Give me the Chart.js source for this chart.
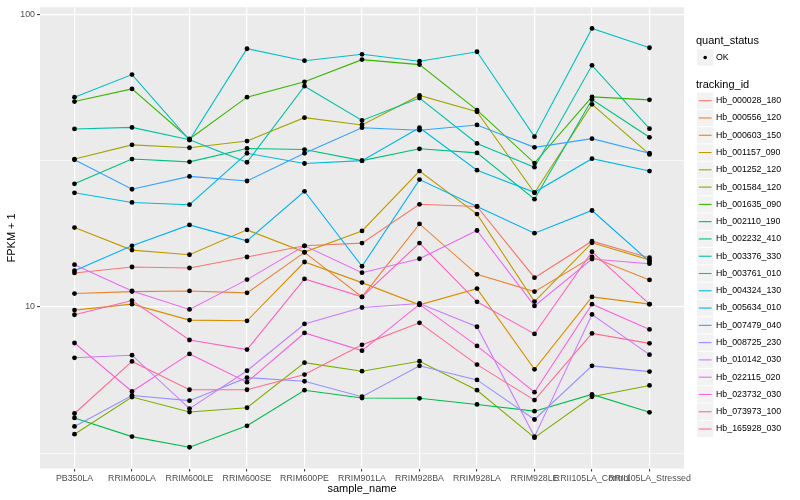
<!DOCTYPE html>
<html><head><meta charset="utf-8">
<script src="https://cdn.jsdelivr.net/npm/chart.js@4.4.0/dist/chart.umd.min.js"></script>
<style>html,body{margin:0;padding:0;background:#fff}canvas{display:block}</style>
</head><body>
<canvas id="c" width="800" height="500" style="width:800px;height:500px"></canvas>
<script>
const sampleNames = ["PB350LA","RRIM600LA","RRIM600LE","RRIM600SE","RRIM600PE","RRIM901LA","RRIM928BA","RRIM928LA","RRIM928LE","RRII105LA_Control","RRII105LA_Stressed"];

const Hb_000028_180 = [13.08,13.71,13.60,14.83,16.20,16.55,22.47,22.10,12.60,16.80,14.75];
const Hb_000556_120 = [11.12,11.29,11.35,11.18,15.38,10.83,19.25,12.94,11.29,14.83,12.38];
const Hb_000603_150 = [9.76,10.23,9.02,8.97,14.26,12.12,10.17,11.56,6.12,10.83,10.23];
const Hb_001157_090 = [18.70,15.66,15.10,18.37,15.42,18.22,29.2,20.8,10.44,16.59,14.5];
const Hb_001252_120 = [32.1,35.9,35.1,37.0,44.5,42.0,53.0,46.6,24.6,49.4,33.3];
const Hb_001584_120 = [3.67,4.92,4.37,4.52,6.45,6.03,6.52,5.19,3.57,4.93,5.39];
const Hb_001635_090 = [50.5,55.8,37.6,52.3,59.0,70.3,67.6,47.2,31.1,52.4,51.2];
const Hb_002110_190 = [4.17,3.60,3.31,3.92,5.19,4.88,4.87,4.64,4.40,5.02,4.36];
const Hb_002232_410 = [26.4,32.1,31.4,34.9,34.6,31.7,34.8,33.7,23.4,51.3,38.1];
const Hb_003376_330 = [40.7,41.2,37.4,31.3,57.0,43.5,51.9,36.3,30.1,67.2,40.8];
const Hb_003761_010 = [52.3,62.5,37.3,76.6,69.7,73.3,69.4,74.8,38.3,89.9,77.2];
const Hb_004324_130 = [24.6,22.8,22.4,33.6,31.0,31.7,41.1,29.4,24.7,32.2,29.2];
const Hb_005634_010 = [13.32,16.20,19.10,16.85,24.9,13.79,27.3,22.1,17.9,21.4,14.3];
const Hb_007479_040 = [31.9,25.3,28.0,27.0,33.6,41.1,40.3,42.0,35.2,37.7,33.6];
const Hb_008725_230 = [3.90,4.98,4.78,5.73,5.57,4.93,6.29,5.63,4.12,6.29,6.01];
const Hb_010142_030 = [6.70,6.84,4.49,6.05,8.75,9.96,10.28,8.56,3.60,9.43,6.87];
const Hb_022115_020 = [13.96,11.35,9.81,12.41,16.20,13.11,14.63,18.28,10.09,14.60,14.07];
const Hb_023732_030 = [7.53,5.14,6.91,5.53,8.15,7.09,10.21,7.36,5.11,10.23,8.38];
const Hb_073973_100 = [9.41,10.52,7.71,7.15,12.48,10.83,16.55,10.42,8.09,15.46,10.23];
const Hb_165928_030 = [4.32,6.51,5.21,5.21,5.87,7.42,8.83,6.35,4.80,8.12,7.51];

const seriesNames = ["Hb_000028_180","Hb_000556_120","Hb_000603_150","Hb_001157_090","Hb_001252_120","Hb_001584_120","Hb_001635_090","Hb_002110_190","Hb_002232_410","Hb_003376_330","Hb_003761_010","Hb_004324_130","Hb_005634_010","Hb_007479_040","Hb_008725_230","Hb_010142_030","Hb_022115_020","Hb_023732_030","Hb_073973_100","Hb_165928_030"];
const seriesValues = [Hb_000028_180,Hb_000556_120,Hb_000603_150,Hb_001157_090,Hb_001252_120,Hb_001584_120,Hb_001635_090,Hb_002110_190,Hb_002232_410,Hb_003376_330,Hb_003761_010,Hb_004324_130,Hb_005634_010,Hb_007479_040,Hb_008725_230,Hb_010142_030,Hb_022115_020,Hb_023732_030,Hb_073973_100,Hb_165928_030];
const seriesColors = ["#F8766D","#EA8331","#D89000","#C09B00","#A3A500","#7CAE00","#39B600","#00BB4E","#00BF7D","#00C1A3","#00BFC4","#00BAE0","#00B0F6","#35A2FF","#9590FF","#C77CFF","#E76BF3","#FA62DB","#FF62BC","#FF6C91"];
const statusLabels = ["OK"];
const yTickLabels = [10, 100];
const yGridValues = [Math.sqrt(10), 10, Math.sqrt(1000), 100];

const FONT = '"Liberation Sans", Arial, Helvetica, sans-serif';

const datasets = [];
seriesNames.forEach((name, i) => {
  datasets.push({
    label: name,
    data: seriesValues[i].map((v, j) => ({x: j, y: v})),
    borderColor: seriesColors[i],
    backgroundColor: seriesColors[i],
    borderWidth: 1.1,
    pointRadius: 0,
    fill: false,
    tension: 0,
    order: 100 - i
  });
});
seriesNames.forEach((name, i) => {
  datasets.push({
    label: name + ' points',
    data: seriesValues[i].map((v, j) => ({x: j, y: v})),
    showLine: false,
    pointRadius: 2.4,
    pointBackgroundColor: '#000',
    pointBorderColor: '#000',
    pointBorderWidth: 0,
    order: 0
  });
});

const panelBg = {
  id: 'panelBg',
  beforeDraw(chart) {
    const {ctx, chartArea: a} = chart;
    ctx.save();
    ctx.fillStyle = '#FFFFFF';
    ctx.fillRect(0, 0, chart.width, chart.height);
    ctx.fillStyle = '#EBEBEB';
    ctx.fillRect(a.left, a.top, a.right - a.left, a.bottom - a.top);
    ctx.restore();
  }
};

const ggLegend = {
  id: 'ggLegend',
  afterDraw(chart) {
    const ctx = chart.ctx;
    ctx.save();
    ctx.textBaseline = 'middle';
    ctx.textAlign = 'left';
    ctx.fillStyle = '#000';
    ctx.font = '11px ' + FONT;
    ctx.fillText('quant_status', 696, 41);
    ctx.fillStyle = '#F2F2F2';
    ctx.fillRect(697, 49.3, 16.3, 16.3);
    ctx.fillStyle = '#000';
    ctx.beginPath(); ctx.arc(705.2, 57.5, 1.8, 0, Math.PI * 2); ctx.fill();
    ctx.font = '8.8px ' + FONT;
    ctx.fillText(statusLabels[0], 716, 57.5);
    ctx.font = '11px ' + FONT;
    ctx.fillText('tracking_id', 696, 84.5);
    const step = 17.28;
    seriesNames.forEach((name, i) => {
      const y = 100.7 + i * step;
      ctx.fillStyle = '#F2F2F2';
      ctx.fillRect(697, y - step / 2 + 0.5, 16.3, step - 1);
      ctx.strokeStyle = seriesColors[i];
      ctx.lineWidth = 1.1;
      ctx.beginPath(); ctx.moveTo(698.8, y); ctx.lineTo(711.6, y); ctx.stroke();
      ctx.fillStyle = '#000';
      ctx.font = '8.8px ' + FONT;
      ctx.fillText(name, 716, y);
    });
    ctx.restore();
  }
};

new Chart(document.getElementById('c'), {
  type: 'line',
  data: { datasets },
  plugins: [panelBg, ggLegend],
  options: {
    responsive: false,
    animation: false,
    devicePixelRatio: 1,
    layout: { padding: { left: 0, top: 5, right: 116, bottom: 0 } },
    plugins: { legend: { display: false }, tooltip: { enabled: false } },
    scales: {
      x: {
        type: 'linear',
        min: -0.6,
        max: sampleNames.length - 1 + 0.6,
        afterBuildTicks(s) { s.ticks = sampleNames.map((_, i) => ({value: i})); },
        afterFit(s) { s.height = 31.5; },
        grid: { color: '#FFFFFF', lineWidth: 1.2, tickColor: '#333333', tickLength: 3, tickWidth: 1 },
        border: { display: false },
        ticks: {
          callback: (v) => sampleNames[v],
          autoSkip: false, maxRotation: 0, minRotation: 0,
          color: '#4D4D4D', font: { size: 8.8, family: FONT }, padding: 2
        },
        title: { display: true, text: 'sample_name', color: '#000', font: { size: 11, family: FONT }, padding: { top: 0, bottom: 4.4 } }
      },
      y: {
        type: 'logarithmic',
        min: 2.80,
        max: 106.2,
        afterBuildTicks(s) { s.ticks = yGridValues.map(v => ({value: v})); },
        afterFit(s) { s.width = 40; },
        grid: {
          color: '#FFFFFF',
          lineWidth: (c) => (c.tick && yTickLabels.includes(c.tick.value)) ? 1.2 : 0.6,
          tickColor: (c) => (c.tick && yTickLabels.includes(c.tick.value)) ? '#333333' : 'rgba(0,0,0,0)',
          tickLength: 3, tickWidth: 1
        },
        border: { display: false },
        ticks: {
          callback: (v) => yTickLabels.includes(v) ? String(v) : '',
          autoSkip: false,
          color: '#4D4D4D', font: { size: 8.8, family: FONT }, padding: 2
        },
        title: { display: true, text: 'FPKM + 1', color: '#000', font: { size: 11, family: FONT }, padding: { top: 5, bottom: 0 } }
      }
    }
  }
});
</script></body></html>
